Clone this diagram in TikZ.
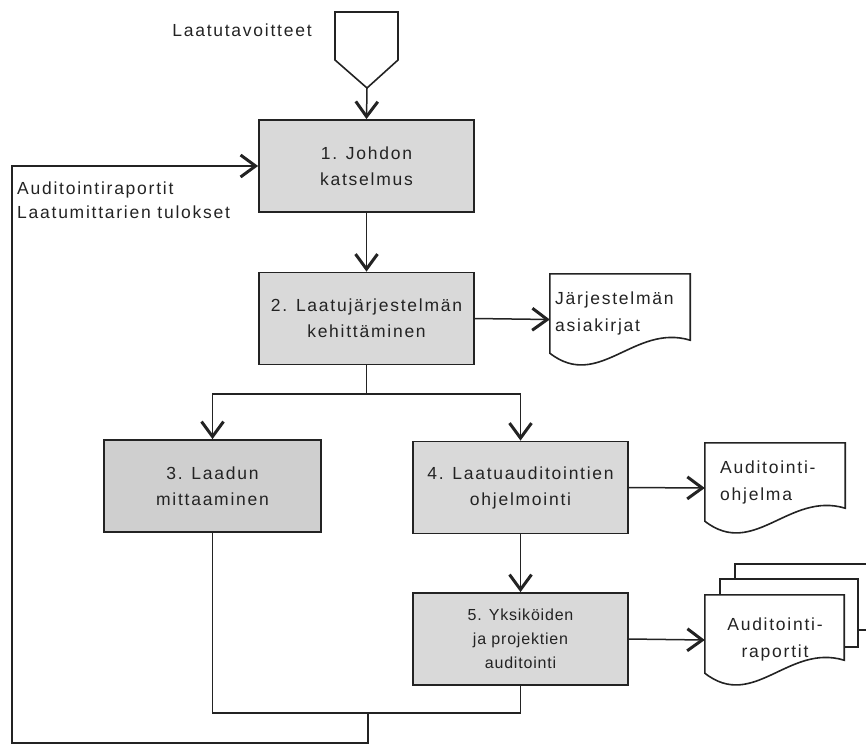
\documentclass[tikz,border=0pt]{standalone}
\usepackage{fontspec}
\usetikzlibrary{arrows.meta,calc}
\newfontfamily\lsans[LetterSpace=10]{Liberation Sans}
\newfontfamily\lsanstight[LetterSpace=5]{Liberation Sans}
\definecolor{boxfill}{RGB}{217,217,217}
\definecolor{boxfilldark}{RGB}{207,207,207}
\definecolor{ink}{RGB}{35,35,35}
\tikzset{
  conn/.style={draw=ink, line width=1.5pt},
  arrow/.style={conn, -{Straight Barb[length=15pt,width=22pt,line width=3pt]}},
  procbox/.style={draw=ink, line width=1.8pt, fill=boxfill, minimum width=215pt, minimum height=92pt,
    align=center, text=ink, font=\lsans\fontsize{17.5}{26}\selectfont, inner sep=0pt},
  docarea/.style={draw=none, inner sep=0pt},
  docline/.style={draw=ink, line width=1.6pt, fill=white},
  doctext/.style={align=left, text=ink, font=\lsans\fontsize{17.5}{27}\selectfont, inner sep=0pt},
  lbl/.style={text=ink, font=\lsans\fontsize{17.5}{24}\selectfont, inner sep=0pt},
}
\newcommand\docwave[1]{%
  \draw[docline] ($(#1.south west)+(0pt,12pt)$) -- (#1.north west) -- (#1.north east)
    -- ($(#1.south east)+(0pt,25pt)$)
    .. controls ($(#1.south west)!0.6!(#1.south east)+(0pt,42pt)$)
       and ($(#1.south west)!0.35!(#1.south east)+(0pt,-26pt)$)
    .. ($(#1.south west)+(0pt,12pt)$) -- cycle;}
\begin{document}
\begin{tikzpicture}[x=1pt,y=-1pt]
\useasboundingbox (0,0) rectangle (866,745);
% goal connector shape
\draw[docline] (335,12) -- (398,12) -- (398,60) -- (367,88) -- (335,60) -- cycle;
\coordinate (goal) at (367,88);
\node[lbl] (goallbl) at (242,30) {Laatutavoitteet};

% process boxes
\node[procbox] (b1) at (366.5,166) {1. Johdon\\katselmus};
\node[procbox] (b2) at (366.5,318.5) {2. Laatujärjestelmän\\kehittäminen};
\node[procbox, fill=boxfilldark, minimum width=217pt] (b3) at (212.5,486) {3. Laadun\\mittaaminen};
\node[procbox] (b4) at (520.5,487.5) {4. Laatuauditointien\\ohjelmointi};
\node[procbox, font=\lsanstight\fontsize{16}{24}\selectfont] (b5) at (520.5,639) {5. Yksiköiden\\ja projektien\\auditointi};

% documents
\node[docarea, minimum width=140pt, minimum height=91pt] (d1) at (620,319.5) {};
\docwave{d1}
\node[doctext, anchor=west] (d1t) at (555,313.5) {Järjestelmän\\asiakirjat};

\node[docarea, minimum width=140pt, minimum height=90pt] (d2) at (775,488) {};
\docwave{d2}
\node[doctext, anchor=west] (d2t) at (720,482) {Auditointi-\\ohjelma};

% stacked sheets behind doc 3
\draw[docline] (735,564) rectangle (880,630);
\draw[docline] (720,579) rectangle (858,647);
\node[docarea, minimum width=139pt, minimum height=90pt] (d3) at (774.5,640) {};
\docwave{d3}
\node[doctext, align=center] (d3t) at (775,639) {Auditointi-\\raportit};

% left labels
\node[lbl, align=left, anchor=west] (fb) at (17,200) {Auditointiraportit\\Laatumittarien tulokset};

% connectors
\draw[arrow] (goal) -- (b1.north);
\draw[arrow] (b1.south) -- (b2.north);
\draw[arrow] (b2.east) -- (d1.west);
\coordinate (sp) at (368,394);
\draw[conn] (b2.south) -- (b2.south |- sp);
\draw[arrow] (b2.south |- sp) -| (b3.north);
\draw[arrow] (b2.south |- sp) -| (b4.north);
\draw[arrow] (b4.east) -- (d2.west);
\draw[arrow] (b4.south) -- (b5.north);
\draw[arrow] (b5.east) -- (d3.west);
\coordinate (lp) at (368,713);
\coordinate (lb) at (12,743);
\draw[conn] (b3.south) -- (b3.south |- lp) -- (b5.south |- lp) -- (b5.south);
\draw[arrow] (lp) -- (lp |- lb) -- (lb) -- (lb |- b1.west) -- (b1.west);
\end{tikzpicture}
\end{document}
